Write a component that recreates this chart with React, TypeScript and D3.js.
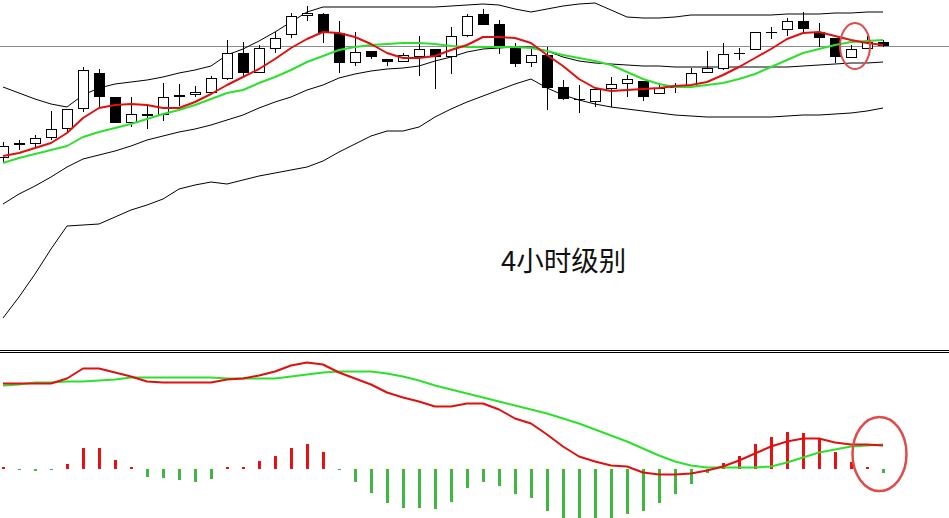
import React from 'react';
import * as d3 from 'd3';

// ---- Price panel (4H candles) ----
const open = [182,195,196,202,211,231,267,243,217,226, 225,243,245,247,261,287,267,291,305,324, 326,307,277,289,281,278,283,291,283,304, 326,316,293,277,285,253,241,238,251,256, 259,246,253,253,267,271,287,290,308,310, 319,308,302,282,291,298];
const high = [198,200,205,229,231,273,271,243,243,234, 257,256,254,264,300,298,295,308,327,334, 327,319,308,289,281,287,304,291,313,326, 331,320,297,293,293,260,255,251,263,265, 259,257,257,272,289,297,292,308,313,322, 328,317,302,295,304,300];
const low = [177,190,192,200,208,228,232,217,213,211, 219,234,243,246,260,263,267,287,302,319, 297,267,274,281,274,278,264,251,266,303, 315,286,273,273,230,240,227,233,233,243, 239,246,247,253,267,270,280,290,301,304, 308,293,277,282,291,293];
const close = [194,197,202,211,231,270,243,217,226,224, 243,245,248,262,287,267,292,302,324,327, 307,277,288,283,278,285,291,283,304,324, 315,293,276,285,252,241,240,251,256,261, 243,252,253,267,272,286,287,308,308,319, 311,302,283,291,298,294];

const maFast = [184,187,192,197,207,222,232,235,236,235, 232,232,238,246,255,263,271,281,292,301, 308,307,303,296,287,282,282,284,290,295, 303,303,302,297,285,274,261,252,249,250, 251,252,254,255,258,265,273,282,291,301, 307,308,304,300,297,295];
const maSlow = [177,182,186,190,194,203,208,212,216,221, 226,230,235,241,247,250,257,263,270,278, 284,290,293,295,296,297,297,296,294,293, 293,293,293,292,289,285,282,279,275,268, 261,256,253,253,255,257,261,266,273,280, 287,291,295,298,299,300];
const bbUpper = [253,247,241,236,233,245,252,256,258,260, 263,267,270,274,285,291,299,308,318,328, 333,333,333,333,333,333,333,333,334,335, 336,335,331,328,331,334,336,337,330,323, 322,322,323,325,325,325,325,325,325,326, 326,326,327,327,328,328];
const bbMid = [136,146,154,163,173,181,185,189,194,200, 204,208,211,215,220,225,232,238,243,250, 255,262,266,269,271,272,274,279,283,288, 291,292,293,293,289,283,279,277,276,275, 274,274,273,273,273,273,273,273,273,273, 274,275,276,277,277,278];
const bbLower = [22,43,66,91,114,115,116,123,130,135, 141,151,155,158,156,160,164,167,170,173, 179,188,196,204,209,209,213,223,231,238, 244,250,256,261,252,245,240,236,233,231, 229,227,225,224,223,223,223,223,223,224, 225,225,226,227,229,232];

// ---- MACD panel ----
const macdLine = [8.5,8.5,8.5,8.5,9.0,10.0,10.0,9.6,9.2,8.7, 8.6,8.6,8.6,8.6,8.9,9.0,9.3,9.7,10.3,10.6, 10.4,9.6,9.0,8.4,7.6,7.1,6.7,6.2,6.2,6.5, 6.5,5.9,5.0,4.5,3.4,2.2,1.2,0.7,0.3,0.2, -0.4,-0.6,-0.6,-0.5,-0.2,0.2,0.8,1.5,2.2,2.7, 3.0,3.0,2.6,2.4,2.4,2.3];
const signalLine = [8.3,8.4,8.6,8.6,8.7,8.7,8.8,8.9,9.1,9.1, 9.1,9.1,9.1,9.1,9.0,9.0,9.0,9.0,9.2,9.4, 9.6,9.7,9.7,9.7,9.5,9.2,8.8,8.3,7.9,7.5, 7.1,6.7,6.3,5.9,5.5,5.0,4.5,3.9,3.3,2.7, 2.0,1.3,0.7,0.3,0.1,0.1,0.1,0.1,0.2,0.6, 1.1,1.6,1.9,2.2,2.3,2.4];
const macdHist = [0.1,-0.1,-0.2,-0.1,0.5,2.1,2.1,0.9,0.1,-0.8, -0.9,-1.1,-1.3,-1.0,0.1,0.1,0.8,1.3,2.1,2.5, 1.7,-0.1,-1.3,-2.4,-3.4,-3.9,-3.9,-4.0,-3.3,-1.9, -1.3,-1.7,-2.5,-2.9,-4.2,-5.6,-5.8,-5.7,-5.4,-4.5, -4.2,-3.4,-2.5,-1.5,-0.4,0.6,1.3,2.5,3.2,3.7, 3.6,3.1,1.7,0.7,0.1,-0.4];

const label = '4小时级别';

const W = 949;
const H = 518;

export default function App() {
  const n = close.length;
  const x = d3.scaleLinear().domain([0, n - 1]).range([3, 883]);
  const y = d3.scaleLinear().domain([0, 340]).range([340, 0]);
  const ym = d3.scaleLinear().domain([0, 10]).range([468.5, 368.5]);

  const priceLine = (arr: number[]) =>
    d3.line<number>().x((_, i) => x(i)).y((d) => y(d))(arr) || '';
  const macdPath = (arr: number[]) =>
    d3.line<number>().x((_, i) => x(i)).y((d) => ym(d))(arr) || '';

  const lastPrice = close[n - 1];
  const bodyW = 10;

  return (
    <svg
      width={W}
      height={H}
      style={{ position: 'absolute', left: 0, top: 0, display: 'block' }}
      fontFamily="'Noto Sans CJK SC', 'Noto Sans', sans-serif"
    >
      <defs>
        <clipPath id="pricePanel">
          <rect x={0} y={0} width={W} height={350} />
        </clipPath>
        <clipPath id="macdPanel">
          <rect x={0} y={353} width={W} height={H - 353} />
        </clipPath>
      </defs>
      <rect x={0} y={0} width={W} height={H} fill="#ffffff" />

      <g clipPath="url(#pricePanel)">
        {/* bid line */}
        <line x1={0} x2={W} y1={Math.round(y(lastPrice)) + 0.5} y2={Math.round(y(lastPrice)) + 0.5} stroke="#8c8c8c" strokeWidth={1} />

        {/* Bollinger bands */}
        {[bbUpper, bbMid, bbLower].map((arr, k) => (
          <path key={k} d={priceLine(arr)} fill="none" stroke="#000" strokeWidth={1} />
        ))}

        {/* candles */}
        <g shapeRendering="crispEdges">
          {close.map((c, i) => {
            const o = open[i];
            const cx = Math.round(x(i));
            const up = c >= o;
            const top = y(Math.max(o, c));
            const bot = y(Math.min(o, c));
            const hgt = Math.max(1, bot - top);
            return (
              <g key={i}>
                <line x1={cx + 0.5} x2={cx + 0.5} y1={y(high[i])} y2={y(low[i])} stroke="#000" strokeWidth={1} />
                {o === c ? (
                  <line x1={cx - bodyW / 2} x2={cx + bodyW / 2 + 1} y1={Math.round(top) + 0.5} y2={Math.round(top) + 0.5} stroke="#000" strokeWidth={1} />
                ) : up ? (
                  <rect x={cx - bodyW / 2 + 0.5} y={top + 0.5} width={bodyW} height={hgt - 1} fill="#fff" stroke="#000" strokeWidth={1} />
                ) : (
                  <rect x={cx - bodyW / 2} y={top} width={bodyW + 1} height={hgt} fill="#000" />
                )}
              </g>
            );
          })}
        </g>

        {/* moving averages */}
        <path d={priceLine(maSlow)} fill="none" stroke="#2ee02e" strokeWidth={2} strokeLinejoin="round" />
        <path d={priceLine(maFast)} fill="none" stroke="#e01010" strokeWidth={2} strokeLinejoin="round" />
      </g>

      {/* panel separator */}
      <line x1={0} x2={W} y1={350.5} y2={350.5} stroke="#000" strokeWidth={1} />
      <line x1={0} x2={W} y1={352.5} y2={352.5} stroke="#000" strokeWidth={1} />

      <g clipPath="url(#macdPanel)">
        <g shapeRendering="crispEdges">
          {macdHist.map((v, i) => {
            const cx = Math.round(x(i));
            const y0 = ym(0);
            const h = Math.max(1.5, Math.abs(ym(v) - y0));
            return (
              <rect key={i} x={cx - 1} y={v >= 0 ? y0 - h : y0} width={3} height={h} fill={v >= 0 ? '#e81010' : '#3fb83f'} />
            );
          })}
        </g>
        <path d={macdPath(signalLine)} fill="none" stroke="#2ee02e" strokeWidth={2} strokeLinejoin="round" />
        <path d={macdPath(macdLine)} fill="none" stroke="#e01010" strokeWidth={2} strokeLinejoin="round" />
      </g>

      {/* annotation text */}
      <text x={501} y={271} fontSize={27.5} fill="#111" fontFamily="'Noto Sans CJK SC', sans-serif">
        {label}
      </text>

      {/* red highlight ellipses */}
      <ellipse cx={855} cy={46} rx={15} ry={23} fill="none" stroke="#e04a4a" strokeWidth={2} />
      <ellipse cx={879.5} cy={454} rx={27} ry={37} fill="none" stroke="#e04a4a" strokeWidth={2.5} />
    </svg>
  );
}
